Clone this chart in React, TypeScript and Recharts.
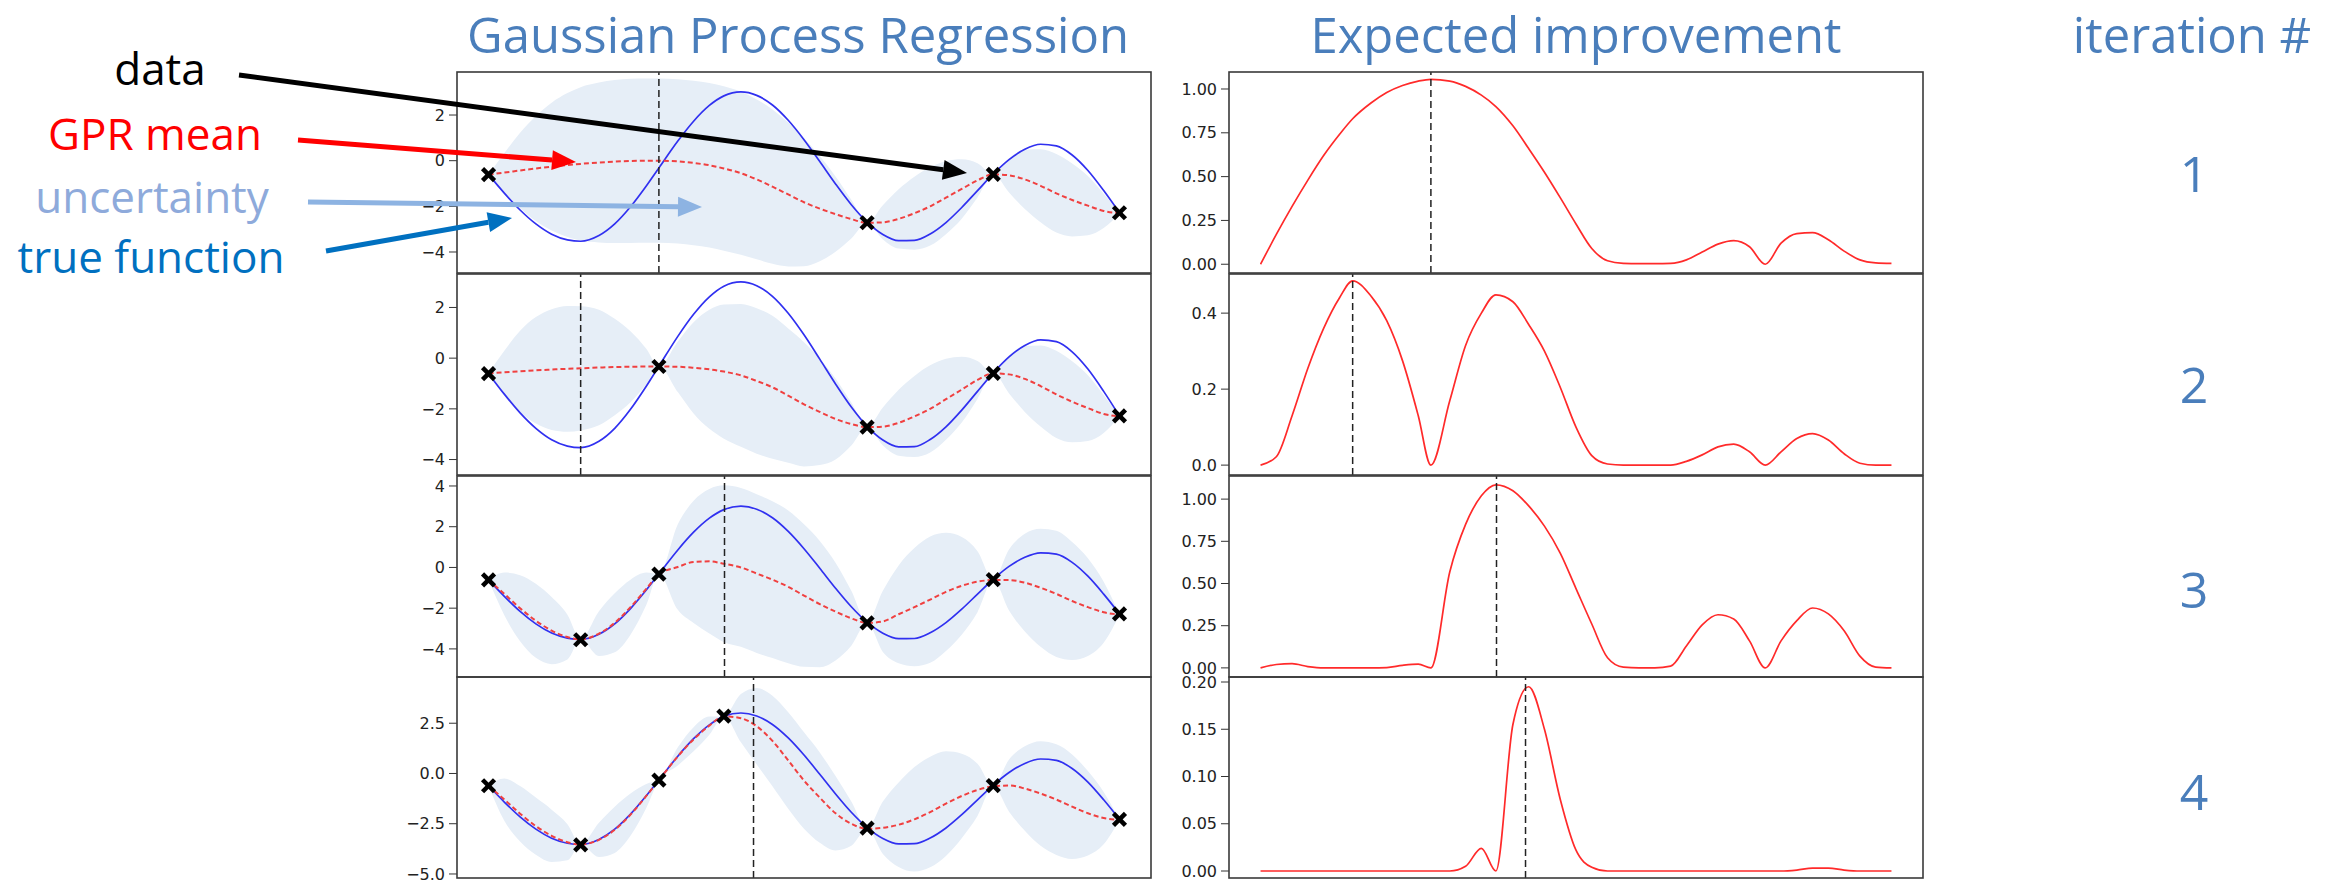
import React from "react";
import {
  ComposedChart,
  Line,
  Area,
  Scatter,
  XAxis,
  YAxis,
  ReferenceLine,
} from "recharts";

// shared x grid (0..100 across the sampled interval)
const xs = [0, 2.5, 5, 7.5, 10, 12.5, 14.6, 17.5, 20, 22.5, 25, 27, 30, 32.5, 35, 37.3, 40, 42.5, 45, 47.5, 50, 52.5, 55, 57.5, 60, 62.5, 65, 67.5, 70, 72.5, 75, 77.5, 80, 82.5, 85, 87.5, 90, 92.5, 95, 97.5, 100];

const trueFn = [-0.61, -1.42, -2.16, -2.77, -3.22, -3.47, -3.53, -3.28, -2.77, -2.02, -1.11, -0.32, 0.86, 1.73, 2.42, 2.84, 3.01, 2.86, 2.44, 1.77, 0.92, -0.04, -1.02, -1.93, -2.69, -3.23, -3.5, -3.49, -3.21, -2.71, -2.05, -1.31, -0.58, 0.05, 0.5, 0.72, 0.65, 0.25, -0.43, -1.31, -2.28];

const mean1 = [-0.61, -0.52, -0.43, -0.34, -0.26, -0.19, -0.14, -0.08, -0.04, -0.01, 0, 0, -0.03, -0.1, -0.2, -0.34, -0.55, -0.82, -1.14, -1.48, -1.82, -2.1, -2.34, -2.56, -2.72, -2.7, -2.55, -2.3, -2.0, -1.62, -1.24, -0.86, -0.6, -0.64, -0.82, -1.1, -1.43, -1.72, -1.97, -2.2, -2.3];
const mean2 = [-0.6, -0.56, -0.52, -0.48, -0.45, -0.42, -0.4, -0.37, -0.35, -0.34, -0.33, -0.33, -0.34, -0.38, -0.44, -0.53, -0.68, -0.9, -1.15, -1.48, -1.82, -2.12, -2.4, -2.6, -2.72, -2.7, -2.55, -2.3, -2.0, -1.62, -1.24, -0.86, -0.6, -0.64, -0.82, -1.1, -1.43, -1.72, -1.97, -2.2, -2.3];
const mean3 = [-0.61, -1.3, -2.0, -2.62, -3.1, -3.42, -3.53, -3.25, -2.72, -1.95, -1.05, -0.33, 0.02, 0.27, 0.3, 0.18, 0.0, -0.3, -0.6, -0.95, -1.38, -1.8, -2.17, -2.5, -2.72, -2.65, -2.3, -1.95, -1.58, -1.2, -0.9, -0.7, -0.62, -0.62, -0.75, -1.0, -1.3, -1.65, -1.95, -2.2, -2.32];
const mean4 = [-0.61, -1.3, -2.0, -2.62, -3.1, -3.42, -3.53, -3.3, -2.8, -2.05, -1.12, -0.33, 0.85, 1.7, 2.38, 2.84, 2.75, 2.35, 1.62, 0.65, -0.35, -1.2, -1.98, -2.5, -2.75, -2.7, -2.55, -2.28, -1.92, -1.5, -1.12, -0.82, -0.64, -0.6, -0.75, -1.0, -1.3, -1.65, -1.98, -2.22, -2.3];

// half width of the shaded uncertainty band
const unc1 = [0, 0.85, 1.65, 2.3, 2.8, 3.15, 3.36, 3.5, 3.57, 3.6, 3.6, 3.6, 3.6, 3.6, 3.6, 3.6, 3.57, 3.5, 3.38, 3.15, 2.8, 2.3, 1.65, 0.85, 0, 0.75, 1.3, 1.6, 1.72, 1.6, 1.3, 0.75, 0, 0.75, 1.3, 1.6, 1.72, 1.6, 1.3, 0.75, 0];
const unc2 = [0, 0.85, 1.6, 2.1, 2.38, 2.48, 2.45, 2.28, 1.9, 1.4, 0.7, 0, 1.0, 1.8, 2.35, 2.65, 2.82, 2.87, 2.82, 2.65, 2.45, 2.1, 1.6, 0.85, 0, 0.75, 1.3, 1.6, 1.72, 1.6, 1.3, 0.75, 0, 0.75, 1.3, 1.6, 1.72, 1.6, 1.3, 0.75, 0];
const unc3 = [0, 1.05, 1.62, 1.82, 1.65, 1.1, 0, 1.1, 1.45, 1.35, 0.8, 0, 2.1, 3.0, 3.55, 3.85, 3.9, 3.9, 3.85, 3.75, 3.5, 3.1, 2.4, 1.35, 0, 1.5, 2.4, 2.9, 3.1, 2.9, 2.4, 1.5, 0, 1.5, 2.4, 2.9, 3.1, 2.9, 2.4, 1.5, 0];
const unc4 = [0, 1.05, 1.38, 1.42, 1.3, 0.9, 0, 0.85, 1.15, 1.05, 0.6, 0, 0.45, 0.6, 0.45, 0, 1.2, 1.9, 2.25, 2.4, 2.4, 2.25, 1.85, 1.1, 0, 1.3, 2.1, 2.6, 2.75, 2.6, 2.1, 1.3, 0, 1.3, 2.1, 2.6, 2.75, 2.6, 2.1, 1.3, 0];

const ei1 = [0, 0.17, 0.33, 0.48, 0.62, 0.74, 0.83, 0.92, 0.98, 1.02, 1.045, 1.055, 1.045, 1.015, 0.965, 0.9, 0.79, 0.66, 0.525, 0.38, 0.23, 0.09, 0.02, 0.005, 0.003, 0.003, 0.005, 0.025, 0.07, 0.115, 0.135, 0.1, 0, 0.12, 0.175, 0.18, 0.14, 0.075, 0.025, 0.008, 0.005];
const ei2 = [0, 0.022, 0.13, 0.255, 0.36, 0.44, 0.485, 0.445, 0.38, 0.275, 0.13, 0, 0.17, 0.315, 0.4, 0.448, 0.43, 0.37, 0.3, 0.205, 0.1, 0.025, 0.003, 0, 0, 0, 0, 0.01, 0.027, 0.048, 0.055, 0.035, 0, 0.035, 0.07, 0.083, 0.066, 0.03, 0.005, 0, 0];
const ei3 = [0, 0.02, 0.025, 0.008, 0, 0, 0, 0, 0.002, 0.015, 0.022, 0, 0.57, 0.85, 1.02, 1.085, 1.05, 0.96, 0.84, 0.68, 0.47, 0.26, 0.06, 0.004, 0, 0, 0.01, 0.13, 0.255, 0.315, 0.29, 0.16, 0, 0.16, 0.28, 0.355, 0.32, 0.22, 0.07, 0.005, 0];
const ei4 = [0, 0, 0, 0, 0, 0, 0, 0, 0, 0, 0, 0, 0, 0.005, 0.024, 0, 0.155, 0.195, 0.15, 0.076, 0.022, 0.004, 0, 0, 0, 0, 0, 0, 0, 0, 0, 0, 0, 0, 0.001, 0.003, 0.003, 0.001, 0, 0, 0];

// observed samples, in the order they were added
const sampleX = [0, 60, 80, 100, 27, 14.6, 37.3];
const sampleY = [-0.61, -2.72, -0.6, -2.28, -0.33, -3.55, 2.85];
const nextX = [27, 14.6, 37.4, 42];

const means = [mean1, mean2, mean3, mean4];
const uncs = [unc1, unc2, unc3, unc4];
const eis = [ei1, ei2, ei3, ei4];

const gprDomains = [[-4.92, 3.885], [-4.61, 3.32], [-5.38, 4.49], [-5.2, 4.8]];
const gprTicks = [[-4, -2, 0, 2], [-4, -2, 0, 2], [-4, -2, 0, 2, 4], [-5, -2.5, 0, 2.5]];
const gprDecimals = [0, 0, 0, 1];
const eiDomains = [[-0.05, 1.097], [-0.026, 0.503], [-0.054, 1.137], [-0.0074, 0.2053]];
const eiTicks = [[0, 0.25, 0.5, 0.75, 1], [0, 0.2, 0.4], [0, 0.25, 0.5, 0.75, 1], [0, 0.05, 0.1, 0.15, 0.2]];
const eiDecimals = [2, 1, 2, 2];

const iterations = ["1", "2", "3", "4"];

// layout
const panelTops = [72, 274, 476, 677];
const panelH = 201;
const pad = 8;
const plotW = 694;
const gprLeft = 457;
const eiLeft = 1229;
const axisW = 70;
const TITLE = "#4a7ebb";

const fmt = (d: number) => (v: number) => v.toFixed(d).replace("-", "\u2212");

const XMark = (props: any) => {
  const { cx, cy } = props;
  if (cx == null || cy == null) return null;
  const s = 6;
  return (
    <g stroke="#000" strokeWidth={4.5}>
      <line x1={cx - s} y1={cy - s} x2={cx + s} y2={cy + s} />
      <line x1={cx - s} y1={cy + s} x2={cx + s} y2={cy - s} />
    </g>
  );
};

const tickStyle = { fontSize: 16, fill: "#222", fontFamily: "DejaVu Sans" };
const chartMargin = { top: pad, right: 0, bottom: pad, left: 0 };

const GprPanel = ({ i }: { i: number }) => {
  const rows = xs.map((x, k) => ({
    x,
    truth: trueFn[k],
    mean: means[i][k],
    band: [means[i][k] - uncs[i][k], means[i][k] + uncs[i][k]],
  }));
  const pts = sampleX.slice(0, 4 + i).map((x, k) => ({ x, y: sampleY[k] }));
  return (
    <div style={{ position: "absolute", left: gprLeft - axisW, top: panelTops[i] - pad }}>
      <ComposedChart width={plotW + axisW} height={panelH + 2 * pad} data={rows} margin={chartMargin}>
        <XAxis dataKey="x" type="number" domain={[-5, 105]} hide allowDataOverflow />
        <YAxis
          type="number"
          domain={gprDomains[i]}
          ticks={gprTicks[i]}
          interval={0}
          width={axisW}
          allowDataOverflow
          axisLine={false}
          tickSize={8}
          tickMargin={4}
          tickLine={{ stroke: "#333" }}
          tick={tickStyle}
          tickFormatter={fmt(gprDecimals[i])}
        />
        <Area dataKey="band" type="monotone" stroke="none" fill="#e6eef7" fillOpacity={1} isAnimationActive={false} />
        <Line dataKey="truth" type="monotone" stroke="#3030f0" strokeWidth={1.7} dot={false} activeDot={false} isAnimationActive={false} />
        <Line dataKey="mean" type="monotone" stroke="#f04040" strokeWidth={2} strokeDasharray="5 3" dot={false} activeDot={false} isAnimationActive={false} />
        <ReferenceLine x={nextX[i]} stroke="#222" strokeWidth={1.5} strokeDasharray="7 4" />
        <Scatter data={pts} dataKey="y" shape={XMark} isAnimationActive={false} />
      </ComposedChart>
    </div>
  );
};

const EiPanel = ({ i }: { i: number }) => {
  const rows = xs.map((x, k) => ({ x, ei: eis[i][k] }));
  return (
    <div style={{ position: "absolute", left: eiLeft - axisW, top: panelTops[i] - pad }}>
      <ComposedChart width={plotW + axisW} height={panelH + 2 * pad} data={rows} margin={chartMargin}>
        <XAxis dataKey="x" type="number" domain={[-5, 105]} hide allowDataOverflow />
        <YAxis
          type="number"
          domain={eiDomains[i]}
          ticks={eiTicks[i]}
          interval={0}
          width={axisW}
          allowDataOverflow
          axisLine={false}
          tickSize={8}
          tickMargin={4}
          tickLine={{ stroke: "#333" }}
          tick={tickStyle}
          tickFormatter={fmt(eiDecimals[i])}
        />
        <Line dataKey="ei" type="monotone" stroke="#ff2a2a" strokeWidth={1.7} dot={false} activeDot={false} isAnimationActive={false} />
        <ReferenceLine x={nextX[i]} stroke="#222" strokeWidth={1.5} strokeDasharray="7 4" />
      </ComposedChart>
    </div>
  );
};

const Arrow = ({ x1, y1, x2, y2, color, w }: any) => {
  const dx = x2 - x1;
  const dy = y2 - y1;
  const len = Math.sqrt(dx * dx + dy * dy);
  const ux = dx / len;
  const uy = dy / len;
  const hl = 24;
  const hw = 10;
  const bx = x2 - ux * hl;
  const by = y2 - uy * hl;
  return (
    <g>
      <line x1={x1} y1={y1} x2={bx} y2={by} stroke={color} strokeWidth={w} />
      <polygon
        points={`${x2},${y2} ${bx - uy * hw},${by + ux * hw} ${bx + uy * hw},${by - ux * hw}`}
        fill={color}
      />
    </g>
  );
};

export default function App() {
  const font = "'Open Sans', sans-serif";
  return (
    <div style={{ position: "absolute", left: 0, top: 0, width: 2343, height: 882, background: "#fff", overflow: "hidden" }}>
      {[0, 1, 2, 3].map((i) => (
        <GprPanel key={"g" + i} i={i} />
      ))}
      {[0, 1, 2, 3].map((i) => (
        <EiPanel key={"e" + i} i={i} />
      ))}
      <svg width={2343} height={882} style={{ position: "absolute", left: 0, top: 0, pointerEvents: "none" }}>
        {panelTops.map((t, i) => (
          <g key={i} fill="none" stroke="#3a3a3a" strokeWidth={1.6}>
            <rect x={gprLeft} y={t} width={plotW} height={panelH} />
            <rect x={eiLeft} y={t} width={plotW} height={panelH} />
          </g>
        ))}
        <g fontFamily={font} fill={TITLE} fontSize={49} textAnchor="middle">
          <text x={798} y={53}>Gaussian Process Regression</text>
          <text x={1576} y={53}>Expected improvement</text>
          <text x={2192} y={53}>iteration #</text>
        </g>
        <g fontFamily={font} fill={TITLE} fontSize={50} textAnchor="middle">
          {iterations.map((s, i) => (
            <text key={s} x={2194} y={[192, 403, 608, 810][i]}>
              {s}
            </text>
          ))}
        </g>
        <g fontFamily={font} fontSize={44} textAnchor="middle">
          <text x={160} y={85} fill="#000">data</text>
          <text x={155} y={150} fill="#ff0000">GPR mean</text>
          <text x={152} y={213} fill="#8eaadb">uncertainty</text>
          <text x={151} y={273} fill="#0070c0">true function</text>
        </g>
        <Arrow x1={239} y1={75} x2={967} y2={173} color="#000" w={5} />
        <Arrow x1={298} y1={140} x2={576} y2={162} color="#ff0000" w={5} />
        <Arrow x1={308} y1={202} x2={702} y2={207} color="#8db3e2" w={5} />
        <Arrow x1={326} y1={251} x2={512} y2={218} color="#0070c0" w={5} />
      </svg>
    </div>
  );
}
